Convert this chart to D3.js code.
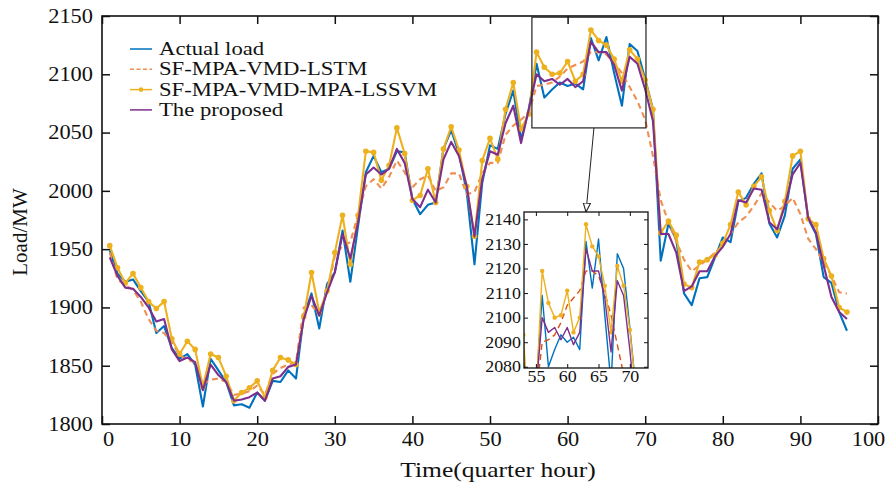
<!DOCTYPE html>
<html>
<head>
<meta charset="utf-8">
<script src="https://cdn.jsdelivr.net/npm/d3@7/dist/d3.min.js"></script>
<style>
  body { margin: 0; background: #fff; }
  text { font-family: "Liberation Serif", "Times New Roman", serif; fill: #111; }
</style>
</head>
<body>
<svg width="892" height="490"></svg>
<script>
// time steps (quarter hours)
var time = d3.range(1, 97);

var actual = [1949,1929,1922,1924,1914,1905,1878,1884,1865,1856,1860,1851,1815,1856,1846,1836,1816,1817,1814,1827,
  1820,1837,1836,1846,1839,1893,1912,1882,1920,1930,1966,1922,1970,2016,2030,2016,2019,2034,2033,1993,
  1980,1988,1990,2036,2052,2032,1999,1937,2007,2039,2036,2066,2086,2044,2070,2109,2080,2087,2093,2090,
  2092,2087,2131,2112,2132,2101,2073,2126,2120,2096,2070,1940,1972,1958,1912,1902,1925,1926,1943,1960,
  1956,1991,1994,2006,2015,1972,1960,1979,2019,2027,1976,1963,1926,1921,1896,1880];

var lstm = [1947,1924,1919,1915,1905,1890,1880,1878,1870,1859,1855,1853,1834,1838,1839,1836,1825,1826,1828,1833,
  1825,1843,1848,1851,1853,1900,1902,1893,1913,1944,1953,1956,1980,2004,2010,2002,2012,2026,2016,2003,
  2010,2013,2000,2003,2015,2015,1997,1999,2015,2024,2024,2048,2056,2061,2067,2090,2091,2093,2098,2105,
  2108,2111,2119,2119,2117,2110,2101,2089,2077,2061,2030,1992,1973,1957,1941,1931,1936,1941,1947,1953,
  1963,1973,1978,1987,1998,1990,1983,1987,1994,1980,1959,1950,1939,1927,1913,1912];

var lssvm = [1953,1934,1921,1929,1917,1905,1899,1905,1873,1860,1871,1864,1832,1860,1857,1841,1820,1827,1831,1837,
  1823,1846,1857,1855,1851,1892,1930,1896,1914,1947,1979,1937,1979,2034,2033,2009,2022,2054,2032,1992,
  1996,2019,1990,2036,2055,2035,2004,1961,2026,2045,2027,2070,2093,2053,2066,2119,2106,2100,2101,2111,
  2094,2100,2138,2129,2125,2113,2094,2121,2113,2095,2070,1964,1974,1962,1920,1917,1939,1941,1945,1955,
  1971,1999,1988,2004,2012,1983,1966,1991,2030,2034,1976,1971,1942,1927,1900,1896];

var proposed = [1943,1927,1917,1916,1909,1900,1888,1890,1864,1854,1857,1853,1829,1851,1842,1836,1820,1821,1823,1827,
  1820,1839,1841,1849,1851,1890,1910,1893,1913,1930,1963,1942,1973,2014,2020,2014,2019,2036,2024,1993,
  1986,2001,1990,2027,2042,2030,2004,1961,2010,2034,2031,2058,2073,2041,2070,2100,2094,2096,2091,2096,
  2089,2094,2128,2119,2119,2108,2086,2115,2109,2087,2060,1963,1963,1947,1914,1918,1931,1931,1944,1952,
  1963,1992,1990,2002,2001,1973,1967,1987,2014,2024,1977,1964,1936,1909,1896,1890];

var names = ["Actual load", "SF-MPA-VMD-LSTM", "SF-MPA-VMD-MPA-LSSVM", "The proposed"];
var colors = ["#0072BD", "#EF8E52", "#EDB120", "#7E2F8E"];

var xTicks = [0, 10, 20, 30, 40, 50, 60, 70, 80, 90, 100];
var yTicks = [1800, 1850, 1900, 1950, 2000, 2050, 2100, 2150];
var insetXTicks = [55, 60, 65, 70];
var insetYTicks = [2080, 2090, 2100, 2110, 2120, 2130, 2140];
// zoomed window in the main chart: x0, x1, y0, y1
var zoomBox = [55.4, 70.1, 2054, 2149];

var series = [actual, lstm, lssvm, proposed].map(function(v, k) {
  return { name: names[k], color: colors[k], values: v.map(function(d, i) { return { t: time[i], v: d }; }) };
});

var svg = d3.select("svg");
var m = { left: 102, right: 878, top: 16, bottom: 424 };

var x = d3.scaleLinear().domain([0, 100]).range([m.left, m.right]);
var y = d3.scaleLinear().domain([1800, 2150]).range([m.bottom, m.top]);

// the source figure is a bit wider than tall, so widen the glyphs a little
function widen(sel, f) {
  sel.each(function() {
    var len = this.getComputedTextLength();
    d3.select(this).attr("textLength", len * f).attr("lengthAdjust", "spacingAndGlyphs");
  });
}

svg.append("clipPath").attr("id", "mainclip").append("rect")
  .attr("x", m.left).attr("y", m.top).attr("width", m.right - m.left).attr("height", m.bottom - m.top);

// axes, ticks inside the box
function styleAxis(g) {
  g.select(".domain").remove();
  g.selectAll(".tick line").attr("stroke", "#111").attr("stroke-width", 1.5);
  g.selectAll("text").style("font-size", "20px").attr("fill", "#111");
  widen(g.selectAll("text"), 1.12);
}
var fmt = d3.format("d");
var xAxisG = svg.append("g").attr("transform", "translate(0," + m.bottom + ")")
  .call(d3.axisBottom(x).tickValues(xTicks).tickSize(-8).tickPadding(8).tickFormat(fmt)).call(styleAxis);
// first and last labels are pulled in as in the source
xAxisG.selectAll(".tick text").attr("dx", function(d) { return d === 0 ? 6 : d === 100 ? -10 : 0; });
svg.append("g").attr("transform", "translate(0," + m.top + ")")
  .call(d3.axisTop(x).tickValues(xTicks).tickSize(-8).tickFormat("")).call(styleAxis);
svg.append("g").attr("transform", "translate(" + m.left + ",0)")
  .call(d3.axisLeft(y).tickValues(yTicks).tickSize(-8).tickPadding(9).tickFormat(fmt)).call(styleAxis);
svg.append("g").attr("transform", "translate(" + m.right + ",0)")
  .call(d3.axisRight(y).tickValues(yTicks).tickSize(-8).tickFormat("")).call(styleAxis);

svg.append("rect").attr("x", m.left).attr("y", m.top)
  .attr("width", m.right - m.left).attr("height", m.bottom - m.top)
  .attr("fill", "none").attr("stroke", "#111").attr("stroke-width", 1.6);

var xTitle = svg.append("text").attr("x", (m.left + m.right) / 2 + 8).attr("y", 477)
  .attr("text-anchor", "middle").style("font-size", "22px").text("Time(quarter hour)");
widen(xTitle, 1.16);
svg.append("text").attr("transform", "translate(27,232) rotate(-90)")
  .attr("text-anchor", "middle").style("font-size", "21px").text("Load/MW");

function drawSeries(g, xs, ys, widthMain, r, dashColor) {
  var line = d3.line().x(function(d) { return xs(d.t); }).y(function(d) { return ys(d.v); });
  series.forEach(function(s, k) {
    g.append("path").datum(s.values)
      .attr("d", line).attr("fill", "none")
      .attr("stroke", k === 1 ? dashColor : s.color).attr("stroke-width", widthMain)
      .attr("stroke-linejoin", "round")
      .attr("stroke-dasharray", k === 1 ? "6,4" : null);
    if (k === 2) {
      g.append("g").selectAll("circle").data(s.values).enter().append("circle")
        .attr("cx", function(d) { return xs(d.t); })
        .attr("cy", function(d) { return ys(d.v); })
        .attr("r", r).attr("fill", s.color);
    }
  });
}

var plot = svg.append("g").attr("clip-path", "url(#mainclip)");
drawSeries(plot, x, y, 2.1, 2.8, colors[1]);

// legend
var legend = svg.append("g");
names.forEach(function(n, k) {
  var ly = 49 + k * 20.3;
  legend.append("line").attr("x1", 130).attr("x2", 152).attr("y1", ly).attr("y2", ly)
    .attr("stroke", colors[k]).attr("stroke-width", 1.5)
    .attr("stroke-dasharray", k === 1 ? "4,2.5" : null);
  if (k === 2) legend.append("circle").attr("cx", 141).attr("cy", ly).attr("r", 2.3).attr("fill", colors[k]);
  var t = legend.append("text").attr("x", 159).attr("y", ly + 6).style("font-size", "18px").text(n);
  widen(t, 1.26);
});

// zoom rectangle and arrow
svg.append("rect")
  .attr("x", x(zoomBox[0])).attr("y", y(zoomBox[3]))
  .attr("width", x(zoomBox[1]) - x(zoomBox[0])).attr("height", y(zoomBox[2]) - y(zoomBox[3]))
  .attr("fill", "none").attr("stroke", "#222").attr("stroke-width", 1.2);

// inset
var im = { left: 524, right: 648, top: 212, bottom: 368 };
var xi = d3.scaleLinear().domain([53.1, 72.9]).range([im.left, im.right]);
var yi = d3.scaleLinear().domain([2079.5, 2143]).range([im.bottom, im.top]);

svg.append("rect").attr("x", im.left).attr("y", im.top)
  .attr("width", im.right - im.left).attr("height", im.bottom - im.top).attr("fill", "#fff");

svg.append("defs").append("marker").attr("id", "arrow")
  .attr("viewBox", "0 0 10 10").attr("refX", 10).attr("refY", 5)
  .attr("markerWidth", 9).attr("markerHeight", 9).attr("orient", "auto-start-reverse")
  .append("path").attr("d", "M0,1 L10,5 L0,9 Z").attr("fill", "#fff").attr("stroke", "#222").attr("stroke-width", 1.2);

svg.append("line")
  .attr("x1", x((zoomBox[0] + zoomBox[1]) / 2) + 5).attr("y1", y(zoomBox[2]))
  .attr("x2", (im.left + im.right) / 2).attr("y2", im.top)
  .attr("stroke", "#222").attr("stroke-width", 1).attr("marker-end", "url(#arrow)");

svg.append("clipPath").attr("id", "insetclip").append("rect")
  .attr("x", im.left).attr("y", im.top).attr("width", im.right - im.left).attr("height", im.bottom - im.top);

var inset = svg.append("g").attr("clip-path", "url(#insetclip)");
drawSeries(inset, xi, yi, 1.4, 2.2, "#D95319");

function styleInset(g) {
  g.select(".domain").remove();
  g.selectAll(".tick line").attr("stroke", "#111").attr("stroke-width", 1);
  g.selectAll("text").style("font-size", "16px").attr("fill", "#111");
  widen(g.selectAll("text"), 1.12);
}
svg.append("g").attr("transform", "translate(0," + im.bottom + ")")
  .call(d3.axisBottom(xi).tickValues(insetXTicks).tickSize(-4).tickPadding(3)).call(styleInset);
svg.append("g").attr("transform", "translate(0," + im.top + ")")
  .call(d3.axisTop(xi).tickValues(insetXTicks).tickSize(-4).tickFormat("")).call(styleInset);
svg.append("g").attr("transform", "translate(" + im.left + ",0)")
  .call(d3.axisLeft(yi).tickValues(insetYTicks).tickSize(-4).tickPadding(3).tickFormat(fmt)).call(styleInset);
svg.append("g").attr("transform", "translate(" + im.right + ",0)")
  .call(d3.axisRight(yi).tickValues(insetYTicks).tickSize(-4).tickFormat("")).call(styleInset);

svg.append("rect").attr("x", im.left).attr("y", im.top)
  .attr("width", im.right - im.left).attr("height", im.bottom - im.top)
  .attr("fill", "none").attr("stroke", "#111").attr("stroke-width", 1.3);
</script>
</body>
</html>
